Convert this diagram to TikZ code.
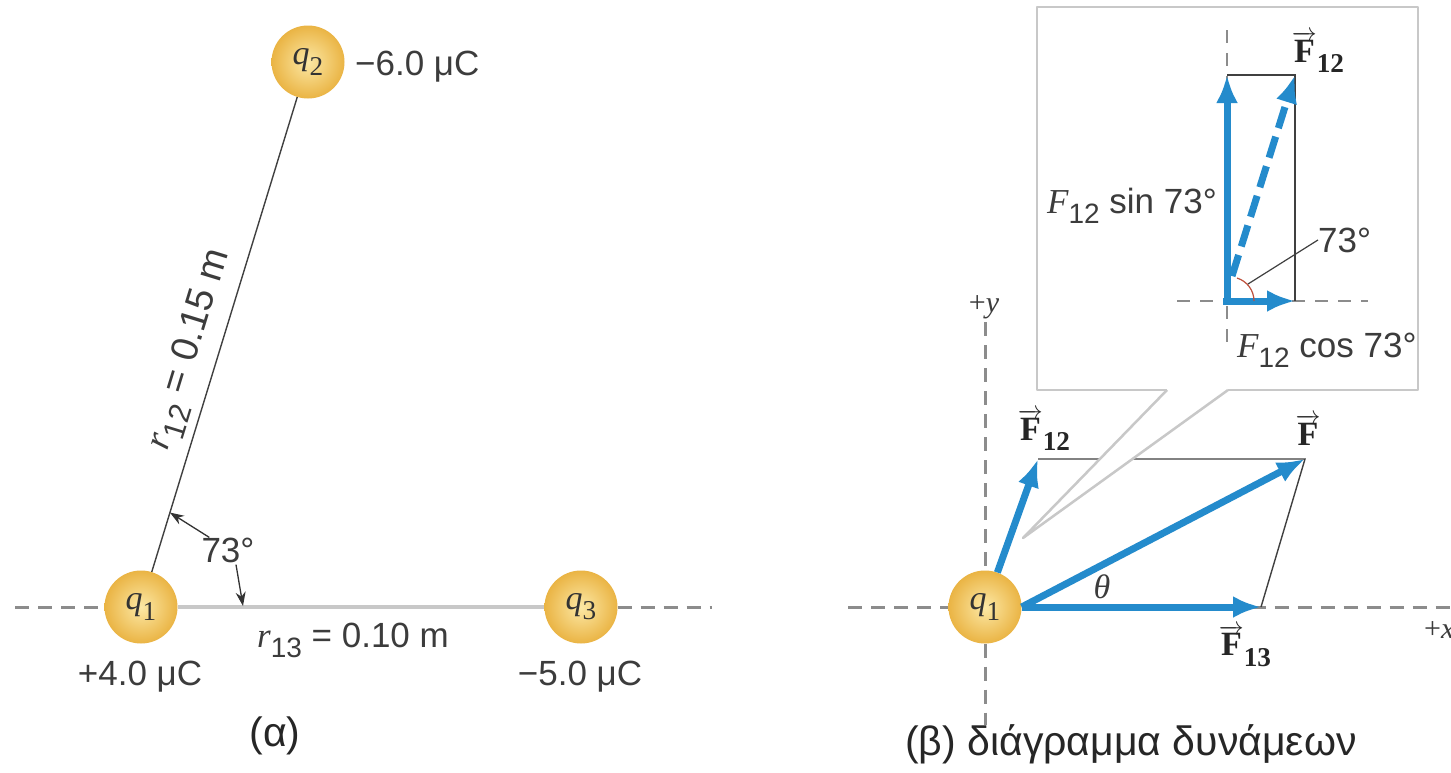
\documentclass[tikz,border=0pt]{standalone}
\usepackage{fontspec}
\setmainfont{Liberation Serif}
\setsansfont{Liberation Sans}
\usetikzlibrary{arrows.meta}
\definecolor{blueF}{RGB}{36,139,204}
\definecolor{axisgray}{RGB}{140,140,140}
\definecolor{boxgray}{RGB}{200,200,200}
\definecolor{linegray}{RGB}{200,200,200}
\definecolor{ballin}{RGB}{252,232,165}
\definecolor{ballout}{RGB}{234,180,68}
\definecolor{arcred}{RGB}{190,80,60}
\definecolor{txt}{RGB}{60,60,60}
\newcommand\lo[1]{\raisebox{-0.3em}{\scalebox{0.8}{#1}}}
\newcommand\vecF{\ensuremath{\overrightarrow{\textbf{F}}}}
\begin{document}
\begin{tikzpicture}[x=1pt,y=-1pt,
  every node/.style={font=\sffamily\fontsize{35}{40}\selectfont, inner sep=0pt, text=txt},
  ball/.style={circle, minimum size=73pt, inner color=ballin, outer color=ballout,
    font=\rmfamily\fontsize{34}{40}\selectfont, text=black!80},
  axis/.style={axisgray, line width=3pt, dash pattern=on 14pt off 9pt},
  thinln/.style={black!75, line width=1.4pt},
  boxline/.style={boxgray, line width=2.5pt, line join=round},
  vecarrow/.style={blueF, line width=7pt, -{Latex[length=28pt,width=22pt]}},
  pointer/.style={black!80, line width=1.3pt, -{Stealth[length=14pt,width=10pt]}},
  veclabel/.style={font=\rmfamily\bfseries\fontsize{34}{40}\selectfont, text=black!85},
  caption/.style={font=\sffamily\fontsize{41}{48}\selectfont, text=black!85}]
\useasboundingbox (0,0) rectangle (1451,772);
\fill[white] (0,0) rectangle (1451,772);

% ---------- panel (a) ----------
\node[ball] (q1) at (141,607) {{\itshape q}\lo{1}};
\node[ball] (q2) at (308,62) {{\itshape q}\lo{2}};
\node[ball] (q3) at (581,607) {{\itshape q}\lo{3}};
\coordinate (axl) at (15,607);
\coordinate (axr) at (712,607);
\draw[axis] (axl) -- (q1.west);
\draw[axis] (q3.east) -- (axr);
\draw[linegray, line width=4pt] (q1.east) -- (q3.west);
\draw[thinln] (q1) -- (q2)
  node[pos=0.45, sloped, above=8pt, font=\sffamily\fontsize{38}{42}\selectfont] {{\rmfamily\itshape r}\lo{12} = 0.15 m}
  coordinate[pos=0.125] (p73);
\coordinate (p73b) at (243,606);
\node (a73) at (228,550) {73°};
\draw[pointer] ([shift={(8,0)}]a73.north west) -- (p73);
\draw[pointer] ([shift={(8,2)}]a73.south) -- (p73b);
\node[anchor=base west] (c2) at (355,75) {−6.0 μC};
\node[anchor=base] (c1) at (140,685) {+4.0 μC};
\node[anchor=base] (c3) at (580,685) {−5.0 μC};
\node[anchor=base west] (r13) at (257,647) {{\rmfamily\itshape r}\lo{13} = 0.10 m};
\node[caption] (capa) at (275,736) {(α)};

% ---------- panel (b) ----------
\node[ball] (Q1) at (985,607) {{\itshape q}\lo{1}};
\coordinate (yt) at (985,322);
\coordinate (yb) at (985,725);
\coordinate (xl) at (848,607);
\coordinate (xr) at (1451,607);
\draw[axis] (yt) -- (Q1.north);
\draw[axis] (Q1.south) -- (yb);
\draw[axis] (xl) -- (Q1.west);
\draw[axis] (Q1.east) -- (xr);
\node[font=\rmfamily\fontsize{30}{36}\selectfont] (ylab) at (984,307) {+{\itshape y}};
\node[font=\rmfamily\fontsize{30}{36}\selectfont, anchor=west] (xlab) at (1424,630) {+{\itshape x}};

\coordinate (F12tip) at (1038,459);
\coordinate (Ftip) at (1305,459);
\coordinate (F13tip) at (1261,607);
\draw[thinln] (F12tip) -- (Ftip) -- (F13tip);

% callout
\coordinate (w1) at (1167,390);
\coordinate (w2) at (1228,390);
\coordinate (wt) at (1023,538);
\coordinate (b1) at (1037,390);
\coordinate (b2) at (1037,7);
\coordinate (b3) at (1418,7);
\coordinate (b4) at (1418,390);
\fill[white] (w1) -- (wt) -- (w2) -- cycle;
\draw[boxline] (w1) -- (wt) -- (w2);
\draw[boxline] (w1) -- (b1) -- (b2) -- (b3) -- (b4) -- (w2);

\draw[vecarrow] (Q1) -- (F12tip);
\draw[vecarrow] (Q1.east) -- (Ftip);
\draw[vecarrow] (Q1.east) -- (F13tip);
\node[font=\rmfamily\itshape\fontsize{34}{40}\selectfont] (th) at (1102,587) {θ};
\node[veclabel] (lF12) at (1044,430) {\vecF\lo{12}};
\node[veclabel] (lF) at (1308,430) {\vecF};
\node[veclabel] (lF13) at (1245,646) {\vecF\lo{13}};

% inset
\coordinate (iv1) at (1227,30);
\coordinate (iv2) at (1227,343);
\coordinate (ih1) at (1177,301);
\coordinate (ih2) at (1368,301);
\draw[axis, line width=2pt, dash pattern=on 13pt off 10pt] (iv1) -- (iv2);
\draw[axis, line width=2pt, dash pattern=on 13pt off 10pt] (ih1) -- (ih2);
\coordinate (O2) at (1227,303);
\coordinate (V) at (1227,75);
\coordinate (H) at (1295,301);
\coordinate (D) at (1295,75);
\coordinate (DS) at (1232,276);
\coordinate (O3) at (1223,301);
\draw[thinln, line width=1.2pt] (V) -- (D) -- (H);
\draw[vecarrow] (O2) -- (V);
\draw[vecarrow] (O3) -- (H);
\draw[vecarrow, dash pattern=on 22pt off 9pt] (DS) -- (D);
\draw[arcred, line width=1.2pt] (1254,301) arc[start angle=0, end angle=-73, radius=24];
\coordinate (arcm) at (1248,284);
\node[anchor=base west] (i73) at (1318,252) {73°};
\draw[thinln, line width=1.2pt] (i73.west) -- (arcm);
\node[veclabel] (iF12) at (1318,52) {\vecF\lo{12}};
\node[anchor=base east] (sinl) at (1217,213) {{\rmfamily\itshape F}\lo{12} sin 73°};
\node[anchor=base west] (cosl) at (1237,357) {{\rmfamily\itshape F}\lo{12} cos 73°};

\node[caption] (capb) at (1131,744) {(β) διάγραμμα δυνάμεων};
\end{tikzpicture}
\end{document}
